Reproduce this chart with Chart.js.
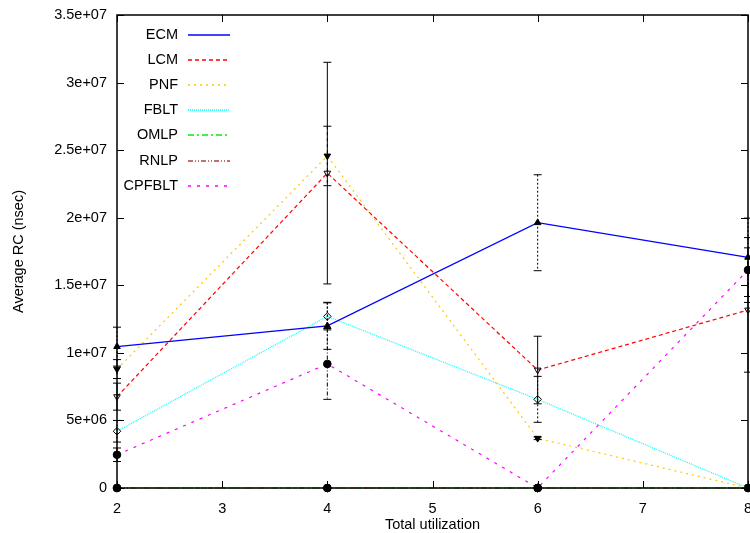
<!DOCTYPE html>
<html>
<head>
<meta charset="utf-8">
<script src="https://cdn.jsdelivr.net/npm/chart.js@4"></script>
<style>
  html, body { margin: 0; padding: 0; background: #fff; overflow: hidden; }
  #wrap { width: 750px; height: 533px; overflow: hidden; }
</style>
</head>
<body>
<div id="wrap"><canvas id="chart" width="753" height="533"></canvas></div>
<script>
// valores
const xValues = [2, 4, 6, 8];
const seriesNames = ['ECM', 'LCM', 'PNF', 'FBLT', 'OMLP', 'RNLP', 'CPFBLT'];

const ecm    = [10460000, 12000000, 19630000, 17070000];
const lcm    = [6760000, 23300000, 8730000, 13170000];
const pnf    = [8800000, 24570000, 3680000, 0];
const fblt   = [4200000, 12700000, 6560000, 0];
const omlp   = [0, 0, 0, 0];
const rnlp   = [0, 0, 0, 0];
const cpfblt = [2460000, 9180000, 0, 16130000];

// barras de error (+/-)
const ecmErr    = [1440000, 1740000, 3550000, 2900000];
const lcmErr    = [1000000, 8200000, 2500000, 4600000];
const pnfErr    = [700000, 2200000, 100000, 0];
const fbltErr   = [800000, 1000000, 1700000, 0];
const omlpErr   = [0, 0, 0, 0];
const rnlpErr   = [0, 0, 0, 0];
const cpfbltErr = [500000, 2620000, 0, 2400000];

const yTickLabels = ['0', '5e+06', '1e+07', '1.5e+07', '2e+07', '2.5e+07', '3e+07', '3.5e+07'];
const xTickLabels = ['2', '3', '4', '5', '6', '7', '8'];

const FONT = 'Liberation Sans, Arial, sans-serif';

function pts(vals) {
    return xValues.map((x, i) => ({ x: x, y: vals[i] }));
}

function makeSet(i, vals, errs, color, dash, style, rot, filled, errDash) {
    return {
        label: seriesNames[i],
        data: pts(vals),
        errors: errs,
        errDash: errDash,
        borderColor: color,
        borderWidth: 1.2,
        borderDash: dash,
        pointStyle: style,
        rotation: rot,
        pointRadius: 3.8,
        pointBorderColor: '#000',
        pointBorderWidth: 1,
        pointBackgroundColor: filled ? '#000' : 'rgba(255,255,255,0)',
        fill: false,
        tension: 0,
        clip: false
    };
}

const datasets = [
    makeSet(0, ecm, ecmErr, '#0000ff', [], 'triangle', 0, true, [2, 2]),
    makeSet(1, lcm, lcmErr, '#ff0000', [4, 3], 'triangle', 180, false, []),
    makeSet(2, pnf, pnfErr, '#ffc800', [2, 4], 'triangle', 180, true, [3, 3]),
    makeSet(3, fblt, fbltErr, '#00ffff', [1, 1], 'rectRot', 0, false, [2, 2]),
    makeSet(4, omlp, omlpErr, '#00ee00', [6, 3, 2, 3], 'circle', 0, true, [4, 2, 1, 2]),
    makeSet(5, rnlp, rnlpErr, '#b44040', [5, 2, 1, 2, 1, 2], 'circle', 0, true, [4, 2, 1, 2]),
    makeSet(6, cpfblt, cpfbltErr, '#ff00ff', [3, 6], 'circle', 0, true, [4, 2, 1, 2])
];

// barras de error en negro
const errorBars = {
    id: 'errorBars',
    afterDatasetsDraw(chart) {
        const ctx = chart.ctx;
        const xs = chart.scales.x, ys = chart.scales.y;
        ctx.save();
        ctx.strokeStyle = '#000';
        ctx.lineWidth = 1;
        chart.data.datasets.forEach(ds => {
            ds.data.forEach((p, i) => {
                const e = ds.errors[i];
                if (!e) return;
                const px = xs.getPixelForValue(p.x);
                const top = ys.getPixelForValue(p.y + e);
                const bot = ys.getPixelForValue(Math.max(0, p.y - e));
                ctx.setLineDash(ds.errDash);
                ctx.beginPath();
                ctx.moveTo(px, top);
                ctx.lineTo(px, bot);
                ctx.stroke();
                ctx.setLineDash([]);
                ctx.beginPath();
                ctx.moveTo(px - 4, top); ctx.lineTo(px + 4, top);
                ctx.moveTo(px - 4, bot); ctx.lineTo(px + 4, bot);
                ctx.stroke();
            });
        });
        ctx.restore();
    }
};

// marco y marcas hacia adentro, estilo gnuplot
const frame = {
    id: 'frame',
    afterDraw(chart) {
        const ctx = chart.ctx;
        const a = chart.chartArea;
        const xs = chart.scales.x, ys = chart.scales.y;
        ctx.save();
        ctx.strokeStyle = '#000';
        ctx.lineWidth = 1;
        ctx.beginPath();
        xs.ticks.forEach(t => {
            const px = Math.round(xs.getPixelForValue(t.value)) + 0.5;
            ctx.moveTo(px, a.bottom); ctx.lineTo(px, a.bottom - 7);
            ctx.moveTo(px, a.top); ctx.lineTo(px, a.top + 7);
        });
        ys.ticks.forEach(t => {
            const py = Math.round(ys.getPixelForValue(t.value)) + 0.5;
            ctx.moveTo(a.left, py); ctx.lineTo(a.left + 7, py);
            ctx.moveTo(a.right, py); ctx.lineTo(a.right - 7, py);
        });
        ctx.stroke();
        ctx.lineWidth = 1.5;
        ctx.strokeRect(a.left, a.top, a.right - a.left, a.bottom - a.top);
        ctx.restore();
    }
};

// leyenda interna: texto a la izquierda, muestra de línea a la derecha
const keyBox = {
    id: 'keyBox',
    afterDraw(chart) {
        const ctx = chart.ctx;
        const a = chart.chartArea;
        ctx.save();
        ctx.font = '14.5px ' + FONT;
        ctx.fillStyle = '#000';
        ctx.textAlign = 'right';
        ctx.textBaseline = 'middle';
        chart.data.datasets.forEach((ds, i) => {
            const y = a.top + 20 + i * 25.1;
            ctx.fillText(ds.label, a.left + 61, y);
            ctx.strokeStyle = ds.borderColor;
            ctx.lineWidth = 1.6;
            ctx.setLineDash(ds.borderDash);
            ctx.beginPath();
            ctx.moveTo(a.left + 71, Math.round(y));
            ctx.lineTo(a.left + 113, Math.round(y));
            ctx.stroke();
        });
        ctx.restore();
    }
};

new Chart(document.getElementById('chart'), {
    type: 'line',
    data: { datasets: datasets },
    options: {
        responsive: false,
        animation: false,
        layout: { padding: { top: 15, right: 0, left: 0, bottom: 0 } },
        plugins: {
            legend: { display: false },
            tooltip: { enabled: false }
        },
        scales: {
            x: {
                type: 'linear',
                min: 2,
                max: 8,
                grid: { display: false, drawTicks: false },
                border: { display: false },
                afterFit: s => {
                    s.height = 45;
                    s.paddingLeft = 0;
                    s.paddingRight = 0;
                },
                ticks: {
                    stepSize: 1,
                    padding: 12,
                    color: '#000',
                    font: { family: FONT, size: 14.5 },
                    callback: (v, i) => xTickLabels[i]
                },
                title: {
                    display: true,
                    text: 'Total utilization',
                    color: '#000',
                    font: { family: FONT, size: 14.5 },
                    padding: { top: 0, bottom: -1 }
                }
            },
            y: {
                min: 0,
                max: 35000000,
                grid: { display: false, drawTicks: false },
                border: { display: false },
                afterFit: s => {
                    s.width = 117;
                    s.paddingTop = 0;
                    s.paddingBottom = 0;
                },
                ticks: {
                    stepSize: 5000000,
                    padding: 10,
                    color: '#000',
                    font: { family: FONT, size: 14.5 },
                    callback: (v, i) => yTickLabels[i]
                },
                title: {
                    display: true,
                    text: 'Average RC (nsec)',
                    color: '#000',
                    font: { family: FONT, size: 14.5 },
                    padding: { top: 10.5, bottom: 0 }
                }
            }
        }
    },
    plugins: [errorBars, frame, keyBox]
});
</script>
</body>
</html>
